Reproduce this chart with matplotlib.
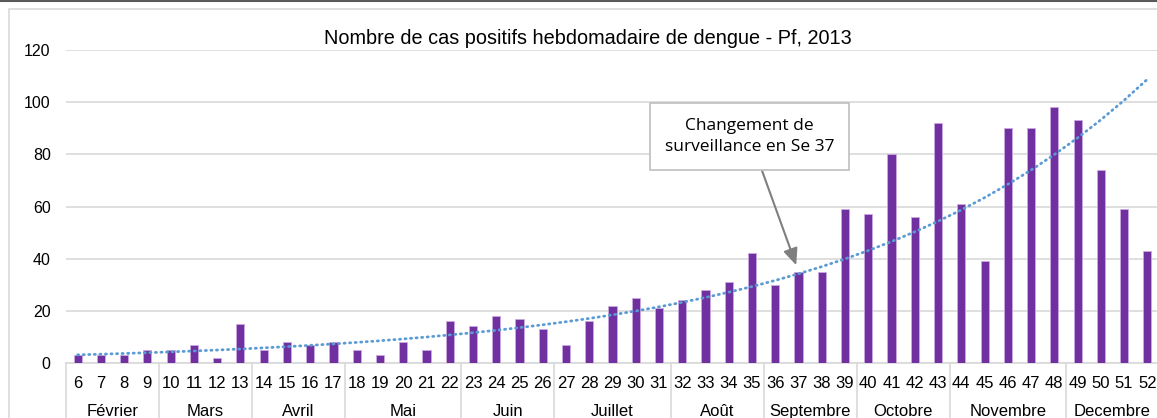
import matplotlib.pyplot as plt
import matplotlib.transforms as mtransforms
from matplotlib.patches import Rectangle
from matplotlib.lines import Line2D
import numpy as np

plt.rcParams['font.family'] = ['Liberation Sans', 'DejaVu Sans']

weeks = list(range(6, 53))
cases = [3, 3, 3, 5, 5, 7, 2, 15, 5, 8, 7, 8, 5, 3, 8, 5, 16, 14, 18, 17, 13,
         7, 16, 22, 25, 21, 24, 28, 31, 42, 30, 35, 35, 59, 57, 80, 56, 92,
         61, 39, 90, 90, 98, 93, 74, 59, 43]
months = ['Février', 'Mars', 'Avril', 'Mai', 'Juin', 'Juillet', 'Août',
          'Septembre', 'Octobre', 'Novembre', 'Decembre']
month_first = [6, 10, 14, 18, 23, 27, 32, 36, 40, 44, 49]
month_last = [9, 13, 17, 22, 26, 31, 35, 39, 43, 48, 52]

fig = plt.figure(figsize=(11.57, 4.18), dpi=100)
ax = fig.add_axes([66 / 1157, 1 - 363 / 418, 1093 / 1157, 313 / 418])

# chart frame
fig.patches.append(Rectangle((9 / 1157, -0.1), 1.2, 1 - 9 / 418 + 0.1,
                             transform=fig.transFigure, fill=False,
                             edgecolor='#D9D9D9', lw=1.2))
fig.lines.append(Line2D([0, 1], [0.998, 0.998], transform=fig.transFigure,
                        color='#595959', lw=1.5))

ax.bar(weeks, cases, width=0.35, color='#7030A0', edgecolor='#C9A9E0',
       linewidth=0.6, zorder=3)

# exponential trend line (Excel style)
w = np.array(weeks, dtype=float)
b, a = np.polyfit(w, np.log(cases), 1)
ax.plot(w, np.exp(a + b * w), color='#5B9BD5', lw=2, linestyle=(0, (0.4, 1.6)),
        dash_capstyle='round', zorder=4)

ax.set_xlim(5.5, 52.5)
ax.set_ylim(0, 120)
ax.set_yticks(range(0, 121, 20))
ax.yaxis.grid(True, color='#D9D9D9', lw=1.2)
ax.set_axisbelow(True)
for s in ['top', 'right', 'left']:
    ax.spines[s].set_visible(False)
ax.spines['bottom'].set_color('#D9D9D9')
ax.spines['bottom'].set_linewidth(1.2)
ax.tick_params(axis='y', length=0, pad=11, labelsize=11.5, labelcolor='#000000')
ax.set_xticks(weeks)
ax.set_xticklabels([str(x) for x in weeks])
ax.tick_params(axis='x', length=0, pad=9, labelsize=12)

trans = mtransforms.blended_transform_factory(ax.transData, ax.transAxes)
for name, f, l in zip(months, month_first, month_last):
    ax.text((f + l) / 2, -0.155, name, transform=trans, ha='center', va='center',
            fontsize=12)
    ax.plot([f - 0.5, f - 0.5], [0, -0.25], transform=trans, color='#D9D9D9',
            lw=1.2, clip_on=False)
ax.plot([52.5, 52.5], [0, -0.25], transform=trans, color='#D9D9D9', lw=1.2,
        clip_on=False)

fig.text(588 / 1157, 1 - 38 / 418, 'Nombre de cas positifs hebdomadaire de dengue - Pf, 2013',
         ha='center', va='center', fontsize=14.3)

ax.annotate('Changement de\nsurveillance en Se 37', xy=(36.9, 37.5), xytext=(34.9, 86.8),
            ha='center', va='center', fontsize=12.5, family=['Open Sans', 'DejaVu Sans'],
            linespacing=1.45,
            bbox=dict(boxstyle='square,pad=0.85', fc='white', ec='#BFBFBF', lw=1.2),
            arrowprops=dict(arrowstyle='-|>,head_length=0.8,head_width=0.35',
                            color='#7F7F7F', lw=1.5, shrinkA=0, shrinkB=0),
            zorder=6)

fig.savefig('out.png', dpi=100)
